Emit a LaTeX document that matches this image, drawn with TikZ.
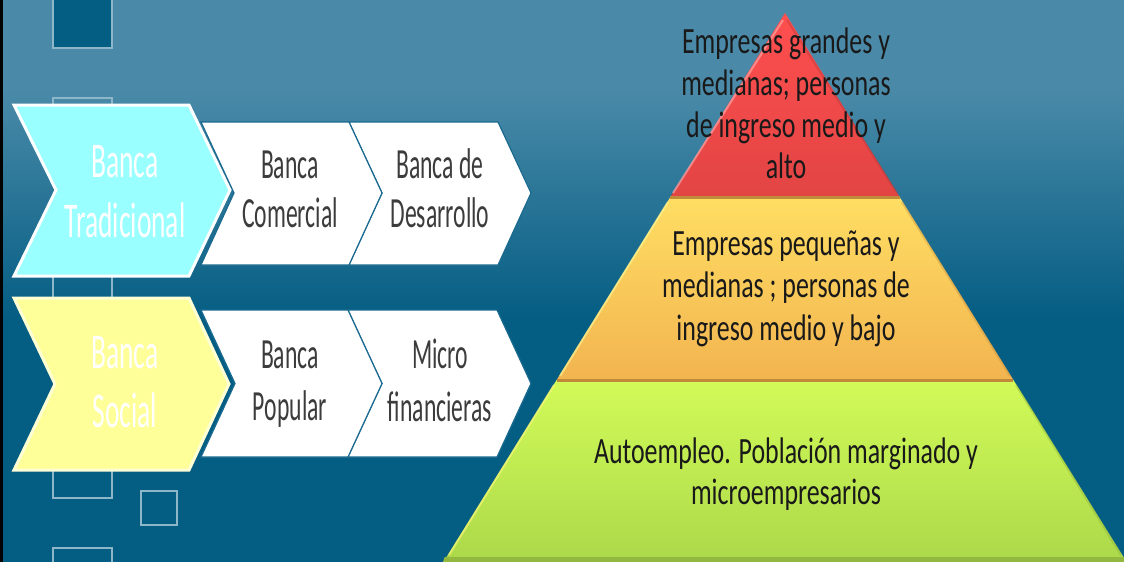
\documentclass[tikz,border=0pt]{standalone}
\usepackage{fontspec}
\setmainfont{Carlito}
\newfontfamily\chvfont[FakeStretch=0.55]{Carlito}
\newfontfamily\pyrfont[FakeStretch=0.7]{Carlito}
\definecolor{bgtop}{HTML}{4A8AA8}
\definecolor{bgbot}{HTML}{045D83}
\definecolor{sqline}{HTML}{8DB6C9}
\definecolor{sepblue}{HTML}{1A6A90}
\definecolor{cyanchev}{HTML}{99FFFF}
\definecolor{yellowchev}{HTML}{FFFF99}
\definecolor{chevtext}{HTML}{3C3C3C}
\definecolor{redtop}{HTML}{FF4F4F}
\definecolor{redbot}{HTML}{E24444}
\definecolor{yeltop}{HTML}{FFDE63}
\definecolor{yelbot}{HTML}{F2B450}
\definecolor{grntop}{HTML}{D2FB58}
\definecolor{grnbot}{HTML}{ACD94A}
\definecolor{tierline}{HTML}{C08A3A}
\begin{document}
\begin{tikzpicture}[x=0.5pt,y=-0.5pt,
  sq/.style={draw=sqline, line width=1.2pt},
  whitechev/.style={fill=white, draw=sepblue, line width=0.6pt, line join=miter},
  mainchev/.style={line width=1.5pt, line join=miter},
  chvlbl/.style={anchor=base, inner sep=0pt, text=chevtext, font=\chvfont\fontsize{21.5}{26}\selectfont},
  bigchvlbl/.style={anchor=base, inner sep=0pt, text=white, font=\chvfont\fontsize{25}{30}\selectfont},
  pyrlbl/.style={anchor=base, inner sep=0pt, text=black!90, font=\pyrfont\fontsize{18.5}{22}\selectfont},
  tier/.style={line join=miter},
]
\useasboundingbox (0,0) rectangle (1124,562);
% background
\fill[bgtop] (0,0) rectangle (1124,90);
\shade[top color=bgtop, bottom color=bgbot] (0,89.5) rectangle (1124,320.5);
\fill[bgbot] (0,320) rectangle (1124,562);
\fill[black] (0,0) rectangle (3,562);
% decorative squares
\draw[sq, fill=bgbot] (53,-12) rectangle (112,48);
\draw[sq] (53,98) rectangle (112,157);
\draw[sq] (53,245) rectangle (112,304);
\draw[sq] (53,440) rectangle (112,498);
\draw[sq] (53,548) rectangle (112,607);
\draw[sq] (141,491) rectangle (177,525);
% row 1 chevrons
\draw[whitechev] (349,122) -- (498,122) -- (531,193) -- (498,265) -- (349,265) -- (382,193) -- cycle;
\draw[whitechev] (201,122) -- (349,122) -- (382,193) -- (349,265) -- (201,265) -- (234,193) -- cycle;
\draw[mainchev, fill=cyanchev, draw=white] (14,105) -- (189,105) -- (230,190) -- (189,276) -- (14,276) -- (56,190) -- cycle;
% row 2 chevrons
\draw[whitechev] (348,310) -- (497,310) -- (531,383.5) -- (497,457) -- (348,457) -- (382,383.5) -- cycle;
\draw[whitechev] (201,310) -- (348,310) -- (382,383.5) -- (348,457) -- (201,457) -- (235,383.5) -- cycle;
\draw[mainchev, fill=yellowchev, draw=white!60!yellowchev] (14,298) -- (189,298) -- (229,384) -- (189,470) -- (14,470) -- (55,384) -- cycle;
% chevron labels
\node[bigchvlbl] (trad1) at (125,177) {Banca};
\node[bigchvlbl] (trad2) at (125,237) {Tradicional};
\node[chvlbl] (com1) at (290,178) {Banca};
\node[chvlbl] (com2) at (290,227) {Comercial};
\node[chvlbl] (des1) at (440,178) {Banca de};
\node[chvlbl] (des2) at (440,227) {Desarrollo};
\node[bigchvlbl] (soc1) at (125,368) {Banca};
\node[bigchvlbl] (soc2) at (125,427) {Social};
\node[chvlbl] (pop1) at (290,368) {Banca};
\node[chvlbl] (pop2) at (290,420) {Popular};
\node[chvlbl] (mic1) at (440,368) {Micro};
\node[chvlbl] (mic2) at (440,421) {financieras};
% pyramid
\shade[tier, top color=grntop, bottom color=grnbot] (556.6,380) -- (1013.4,380) -- (1125.4,560) -- (444.6,560) -- cycle;
\fill[grnbot!85!black] (444.6,557) -- (1125.4,557) -- (1127,562) -- (443,562) -- cycle;
\shade[tier, top color=yeltop, bottom color=yelbot] (670.4,197) -- (899.6,197) -- (1013.4,380) -- (556.6,380) -- cycle;
\shade[tier, top color=redtop, bottom color=redbot] (785,13) -- (899.6,197) -- (670.4,197) -- cycle;
% edge highlights
\draw[line width=1pt, red!30!white, opacity=0.6] (783,20) -- (673,193);
\draw[line width=1pt, yellow!40!white, opacity=0.6] (668,202) -- (560,376);
\draw[line width=1pt, yellow!50!white, opacity=0.6] (554,385) -- (449,555);
\draw[line width=1pt, redbot!80!black, opacity=0.4] (787,20) -- (897,193);
\draw[line width=1pt, yelbot!80!black, opacity=0.4] (902,202) -- (1010,376);
\draw[line width=1pt, grnbot!80!black, opacity=0.4] (1016,385) -- (1121,555);
\draw[line width=1.5pt, tierline] (670.4,197) -- (899.6,197);
\draw[line width=1.5pt, tierline] (556.6,380) -- (1013.4,380);
% pyramid labels
\node[pyrlbl] (r1) at (786,53) {Empresas grandes y};
\node[pyrlbl] (r2) at (786,95) {medianas; personas};
\node[pyrlbl] (r3) at (786,137) {de ingreso medio y};
\node[pyrlbl] (r4) at (786,178) {alto};
\node[pyrlbl] (y1) at (786,255) {Empresas pequeñas y};
\node[pyrlbl] (y2) at (786,297) {medianas ; personas de};
\node[pyrlbl] (y3) at (786,340) {ingreso medio y bajo};
\node[pyrlbl] (g1) at (786,463) {Autoempleo. Población marginado y};
\node[pyrlbl] (g2) at (786,504) {microempresarios};
\end{tikzpicture}
\end{document}
